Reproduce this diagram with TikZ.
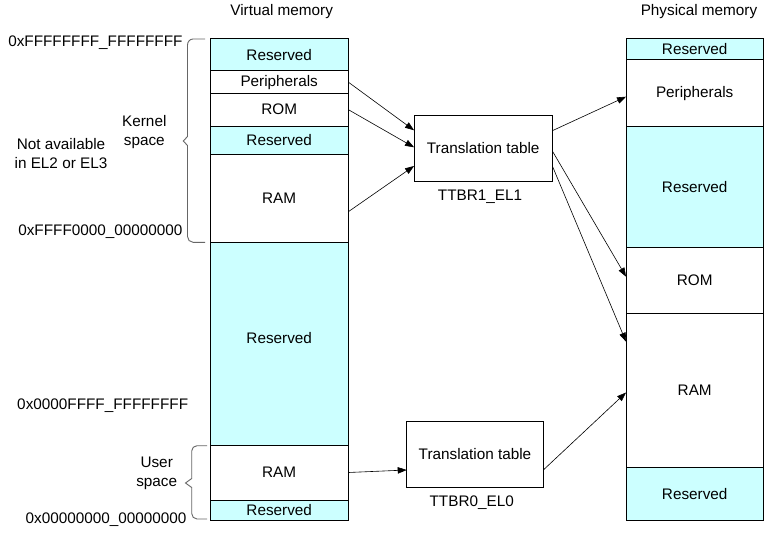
\documentclass[tikz,border=0pt]{standalone}
\usepackage{fontspec}
\setmainfont{Liberation Sans}
\usetikzlibrary{arrows.meta}
\definecolor{resv}{RGB}{204,255,255}
\begin{document}
\begin{tikzpicture}[x=1pt,y=-1pt, font=\fontsize{15.3}{18.7}\selectfont,
  blk/.style={draw, line width=1pt, inner sep=0pt, outer sep=0pt},
  vblk/.style={blk, minimum width=138.3pt},
  pblk/.style={blk, minimum width=137.3pt},
  rsv/.style={fill=resv},
  arr/.style={-{Triangle[length=9pt,width=6.5pt]}, line width=0.6pt},
  brc/.style={draw=black!60, line width=0.9pt},
  lbl/.style={inner sep=0pt}]
\useasboundingbox[fill=white] (0,0) rectangle (777,535);

% virtual memory column
\node[vblk,rsv,minimum height=32.7pt] (vres1) at (279.2,54.65) {Reserved};
\node[vblk,minimum height=22.3pt] (vper) at (279.2,82.15) {Peripherals};
\node[vblk,minimum height=32.7pt] (vrom) at (279.2,109.65) {ROM};
\node[vblk,rsv,minimum height=28.3pt] (vres2) at (279.2,140.15) {Reserved};
\node[vblk,minimum height=88pt] (vram) at (279.2,198.3) {RAM};
\node[vblk,rsv,minimum height=202.7pt,text depth=12pt] (vres3) at (279.2,343.65) {Reserved};
\node[vblk,minimum height=55pt] (vuram) at (279.2,472.5) {RAM};
\node[vblk,rsv,minimum height=20pt] (vres4) at (279.2,510) {Reserved};

% physical memory column
\node[pblk,rsv,minimum height=21.7pt] (pres1) at (694.7,49.15) {Reserved};
\node[pblk,minimum height=66.6pt] (pper) at (694.7,93.3) {Peripherals};
\node[pblk,rsv,minimum height=121.1pt] (pres2) at (694.7,187.15) {Reserved};
\node[pblk,minimum height=65.6pt] (prom) at (694.7,280.5) {ROM};
\node[pblk,minimum height=154pt] (pram) at (694.7,390.3) {RAM};
\node[pblk,rsv,minimum height=52.7pt] (pres3) at (694.7,493.65) {Reserved};

% translation tables
\node[blk,minimum width=138.3pt,minimum height=66pt] (tt1) at (483.2,148.3) {Translation table};
\node[blk,minimum width=136.6pt,minimum height=65.6pt] (tt2) at (475,454.5) {Translation table};
\node[lbl] (ttbr1) at (480,196.7) {TTBR1\_EL1};
\node[lbl] (ttbr0) at (471.7,502.7) {TTBR0\_EL0};

% titles
\node[lbl] (vtitle) at (281.7,11.5) {Virtual memory};
\node[lbl] (ptitle) at (699,11.5) {Physical memory};

% address labels
\node[lbl,anchor=base east] (a1) at (182.7,46.2) {0xFFFFFFFF\_FFFFFFFF};
\node[lbl,anchor=base east] (a2) at (182.7,235.5) {0xFFFF0000\_00000000};
\node[lbl,anchor=base east] (a3) at (188.3,409.5) {0x0000FFFF\_FFFFFFFF};
\node[lbl,anchor=base east] (a4) at (186.7,523.2) {0x00000000\_00000000};

\node[lbl,align=center] (kspace) at (144.3,131.7) {Kernel\\space};
\node[lbl,align=center] (notav) at (61,153.4) {Not available\\in EL2 or EL3};
\node[lbl,align=center] (uspace) at (156.7,473) {User\\space};

% braces
\draw[brc] (205,39) -- (193,39) to[out=180,in=90] (187.5,45) -- (187.5,136.5)
  -- (183.3,141) -- (187.5,145.5) -- (187.5,236.5) to[out=-90,in=180] (193,242.3) -- (205,242.3);
\draw[brc] (207,445.7) -- (197,445.7) to[out=180,in=90] (191.7,451) -- (191.7,478.5)
  -- (185.5,483) -- (191.7,487.5) -- (191.7,513.5) to[out=-90,in=180] (197,519) -- (207,519);

% arrows into TT1
\draw[arr] (vper.east) -- ([yshift=18pt]tt1.west);
\draw[arr] (vrom.east) -- ([yshift=1pt]tt1.west);
\draw[arr] ([yshift=-13.4pt]vram.east) -- ([yshift=-17.7pt]tt1.west);
% arrows out of TT1
\draw[arr] ([yshift=17.6pt]tt1.east) -- ([yshift=-3.4pt]pper.west);
\draw[arr] ([yshift=-2.7pt]tt1.east) -- ([yshift=3.8pt]prom.west);
\draw[arr] ([yshift=-17.7pt]tt1.east) -- ([yshift=48.6pt]pram.west);
% TT2
\draw[arr] (vuram.east) -- ([yshift=-15.5pt]tt2.west);
\draw[arr] ([yshift=-15.5pt]tt2.east) -- ([yshift=-2.2pt]pram.west);
\end{tikzpicture}
\end{document}
